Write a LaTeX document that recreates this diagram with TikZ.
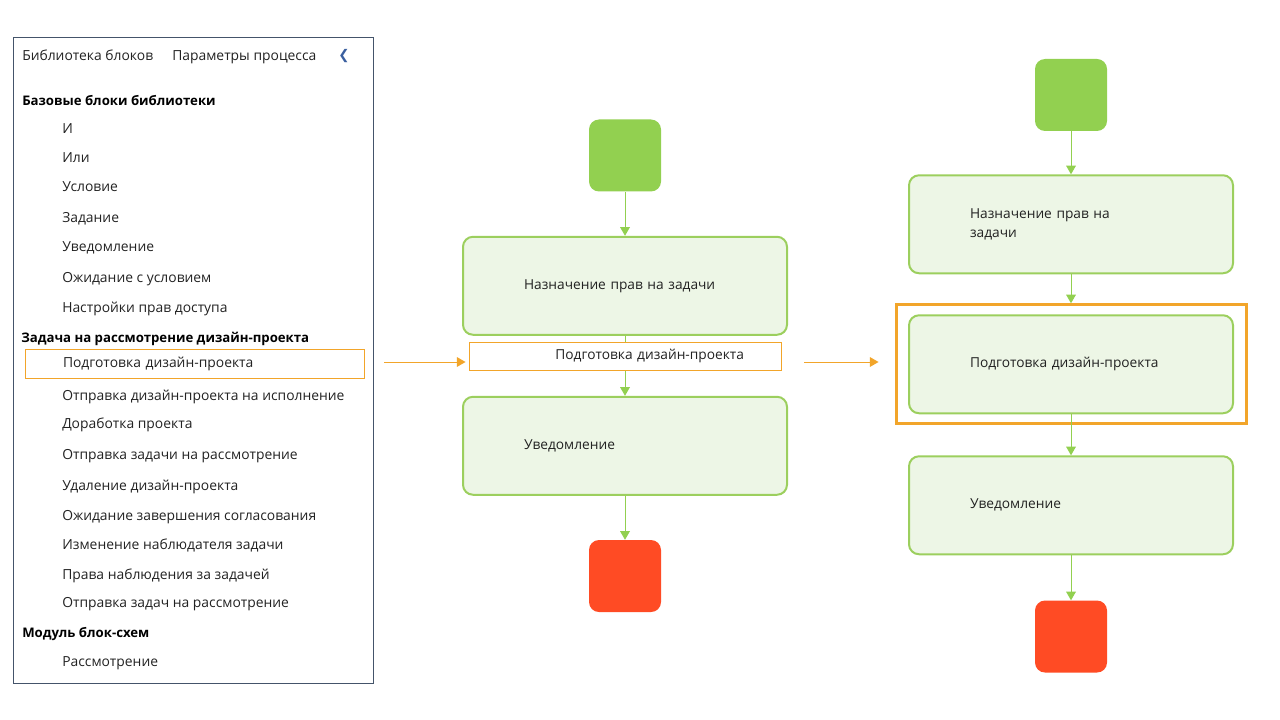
\documentclass[tikz,border=0pt]{standalone}
\usepackage{fontspec}
\setmainfont{Open Sans}
\newfontfamily\symfont{DejaVu Sans}
\usetikzlibrary{arrows}
\usetikzlibrary{positioning}
\definecolor{startgreen}{HTML}{92D050}
\definecolor{boxgreen}{HTML}{9CCF5E}
\definecolor{boxfill}{HTML}{EDF6E6}
\definecolor{endred}{HTML}{FF4B24}
\definecolor{hiorange}{HTML}{F2A52A}
\definecolor{panelgray}{HTML}{44546A}
\definecolor{chevblue}{HTML}{3A5F9F}
\definecolor{textdark}{HTML}{222222}
\tikzset{%
  myedge/.style={->, draw=startgreen, line width=0.75pt, >=triangle 60},
  plainedge/.style={draw=startgreen, line width=0.75pt},
  hiedge/.style={->, draw=hiorange, line width=0.75pt, >=triangle 60},
  startnode/.style={rectangle, rounded corners=7.5pt, fill=startgreen, minimum size=54pt, inner sep=0pt},
  endnode/.style={startnode, fill=endred},
  stepnode/.style={rectangle, rounded corners=7.5pt, draw=boxgreen, line width=1.5pt, fill=boxfill,
    minimum height=73.5pt, text width=151.5pt, inner xsep=45.75pt, align=left, text=textdark,
    font=\fontsize{10.3}{14.25}\selectfont},
  dropnode/.style={rectangle, draw=hiorange, line width=0.75pt, fill=white, minimum height=21pt,
    text width=178.5pt, inner xsep=27.75pt, align=right, text=textdark, font=\fontsize{10.3}{12}\selectfont},
  framenode/.style={rectangle, draw=hiorange, line width=2.25pt, minimum width=262.5pt, minimum height=89.25pt},
  panel/.style={rectangle, draw=panelgray, line width=0.75pt, minimum width=270pt, minimum height=483.75pt},
  tabtext/.style={anchor=west, inner sep=0pt, text height=10.5pt, text depth=2pt, text=textdark,
    font=\fontsize{10.4}{12}\selectfont},
  grouptitle/.style={tabtext, font=\fontsize{9.9}{12}\selectfont\bfseries, text=black},
  listitem/.style={tabtext},
  hibox/.style={rectangle, draw=hiorange, line width=0.75pt, minimum height=21.75pt, text width=197.25pt,
    inner xsep=28.5pt, align=left, text=textdark, font=\fontsize{10.4}{12}\selectfont}
}
\begin{document}
\begin{tikzpicture}[x=0.75pt, y=-0.75pt]
  \useasboundingbox (0,0) rectangle (1280,720);
  % block library
  \node[panel] (panel) at (193,360.5) {};
  \node[tabtext] (tab1) at (22,55) {Библиотека блоков};
  \node[tabtext] (tab2) at (172,55) {Параметры процесса};
  \node[text=chevblue, font=\symfont\fontsize{10}{10}\selectfont] (hide) at (344,56) {❮};
  \node[grouptitle] (g1) at (22,100) {Базовые блоки библиотеки};
  \foreach \y/\t [count=\i] in {128/И, 157/Или, 186/Условие, 217/Задание, 246/Уведомление,
      277/Ожидание с условием, 307/Настройки прав доступа}
    \node[listitem] (base\i) at (62,\y) {\t};
  \node[grouptitle] (g2) at (21,337) {Задача на рассмотрение дизайн-проекта};
  \node[hibox] (picked) at (194.5,363.5) {Подготовка дизайн-проекта};
  \foreach \y/\t [count=\i] in {395/Отправка дизайн-проекта на исполнение, 423/Доработка проекта,
      454/Отправка задачи на рассмотрение, 485/Удаление дизайн-проекта,
      515/Ожидание завершения согласования, 544/Изменение наблюдателя задачи,
      574/Права наблюдения за задачей, 602/Отправка задач на рассмотрение}
    \node[listitem] (task\i) at (62,\y) {\t};
  \node[grouptitle] (g3) at (22,632) {Модуль блок-схем};
  \node[listitem] (mod1) at (62,661) {Рассмотрение};

  % process while dragging
  \node[startnode] (s1) at (625,155.5) {};
  \node[stepnode, below=33pt of s1] (a1) {Назначение прав на задачи};
  \node[dropnode, below=4.5pt of a1] (a2) {Подготовка дизайн-проекта};
  \node[stepnode, below=18.75pt of a2] (a3) {Уведомление};
  \node[endnode, below=33pt of a3] (e1) {};
  \draw[myedge] (s1) -- (a1);
  \draw[plainedge] (a1) -- (a2);
  \draw[myedge] (a2) -- (a3);
  \draw[myedge] (a3) -- (e1);

  % process after drop
  \node[startnode] (s2) at (1071,95) {};
  \node[stepnode, below=32.25pt of s2] (b1) {Назначение прав на\\задачи};
  \node[stepnode, below=30pt of b1] (b2) {Подготовка дизайн-проекта};
  \node[framenode] (sel) at (b2) {};
  \node[stepnode, below=30.75pt of b2] (b3) {Уведомление};
  \node[endnode, below=33.75pt of b3] (e2) {};
  \draw[myedge] (s2) -- (b1);
  \draw[myedge] (b1) -- (sel);
  \draw[myedge] (b2) -- (b3);
  \draw[myedge] (b3) -- (e2);

  % drag arrows
  \coordinate (drag1) at (384,362);
  \coordinate (drag2) at (804,362);
  \draw[hiedge, shorten >=2.25pt] (drag1) -- (drag1 -| a2.west);
  \draw[hiedge, shorten >=12pt] (drag2) -- (drag2 -| sel.west);
\end{tikzpicture}
\end{document}
